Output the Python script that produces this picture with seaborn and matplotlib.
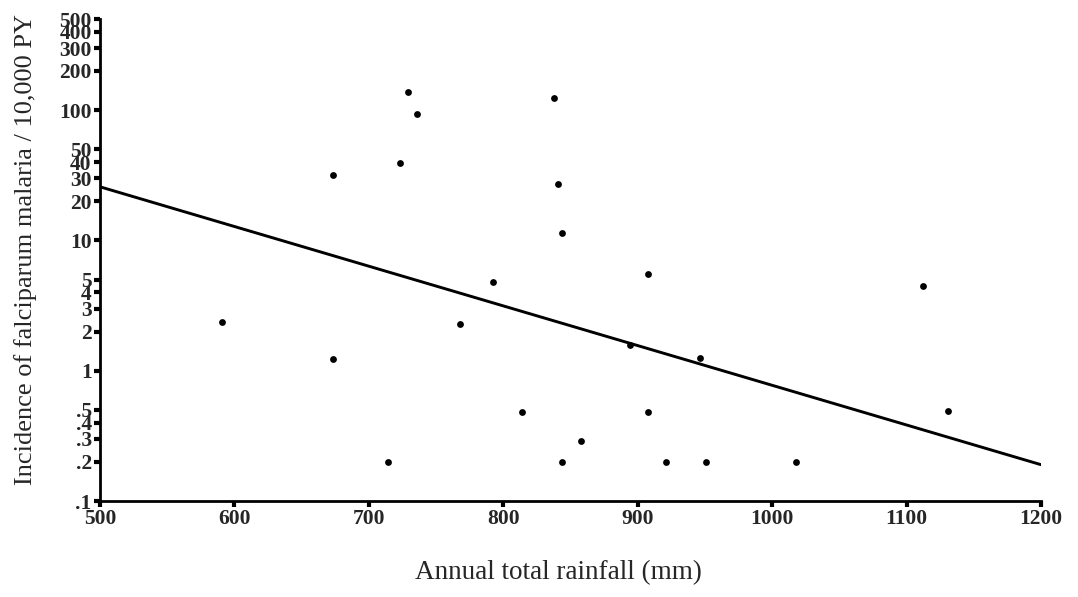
import numpy as np
import pandas as pd
import matplotlib
matplotlib.use('Agg')
import matplotlib.pyplot as plt
import seaborn as sns

# Values
rainfall = [591, 673, 673, 714, 723, 729, 736, 768, 792, 814, 838, 841,
            844, 844, 858, 894, 908, 908, 921, 946, 951, 1018, 1112, 1131]
incidence = [2.37, 31.8, 1.24, 0.2, 39, 138, 93, 2.27, 4.8, 0.48, 123, 26.9,
             11.4, 0.2, 0.29, 1.57, 5.5, 0.48, 0.2, 1.25, 0.2, 0.2, 4.5, 0.49]

# regression line end points
fit_x = [500, 1200]
fit_y = [25.8, 0.19]

y_ticks = [0.1, 0.2, 0.3, 0.4, 0.5, 1, 2, 3, 4, 5, 10, 20, 30, 40, 50,
           100, 200, 300, 400, 500]
y_tick_labels = ['.1', '.2', '.3', '.4', '.5', '1', '2', '3', '4', '5',
                 '10', '20', '30', '40', '50', '100', '200', '300', '400', '500']
x_ticks = [500, 600, 700, 800, 900, 1000, 1100, 1200]

df = pd.DataFrame({'rainfall': rainfall, 'incidence': incidence})
fit = pd.DataFrame({'rainfall': fit_x, 'incidence': fit_y})

sns.set_style('ticks')
plt.rcParams['font.family'] = ['Liberation Serif', 'DejaVu Serif']

fig = plt.figure(figsize=(10.78, 5.97), dpi=100)
ax = fig.add_axes([0.0928, 0.1608, 0.8729, 0.8072])

sns.scatterplot(x='rainfall', y='incidence', data=df, ax=ax, color='black',
                marker='o', s=24, edgecolor='black', linewidth=0, zorder=3)
sns.lineplot(x='rainfall', y='incidence', data=fit, ax=ax, color='black',
             linewidth=2.1, zorder=2)

ax.set_yscale('log')
ax.set_xlim(500, 1200)
ax.set_ylim(0.1, 500)
ax.set_yticks(y_ticks)
ax.set_yticklabels(y_tick_labels)
ax.minorticks_off()
ax.set_xticks(x_ticks)
ax.set_xticklabels([str(t) for t in x_ticks])

for s in ['top', 'right']:
    ax.spines[s].set_visible(False)
for s in ['left', 'bottom']:
    ax.spines[s].set_linewidth(2.0)
    ax.spines[s].set_color('black')

ax.tick_params(axis='both', length=4, width=3, color='black', pad=2,
               labelsize=15.5)
for lab in ax.get_xticklabels() + ax.get_yticklabels():
    lab.set_fontweight('bold')

ax.set_xlabel('Annual total rainfall (mm)', fontsize=19.5)
ax.set_ylabel('Incidence of falciparum malaria / 10,000 PY', fontsize=19)
ax.xaxis.set_label_coords(0.487, -0.149)
ax.xaxis.label.set_va('center')
ax.yaxis.set_label_coords(-0.0797, 0.521)
ax.yaxis.label.set_va('center')

fig.savefig('out.png', dpi=100)
